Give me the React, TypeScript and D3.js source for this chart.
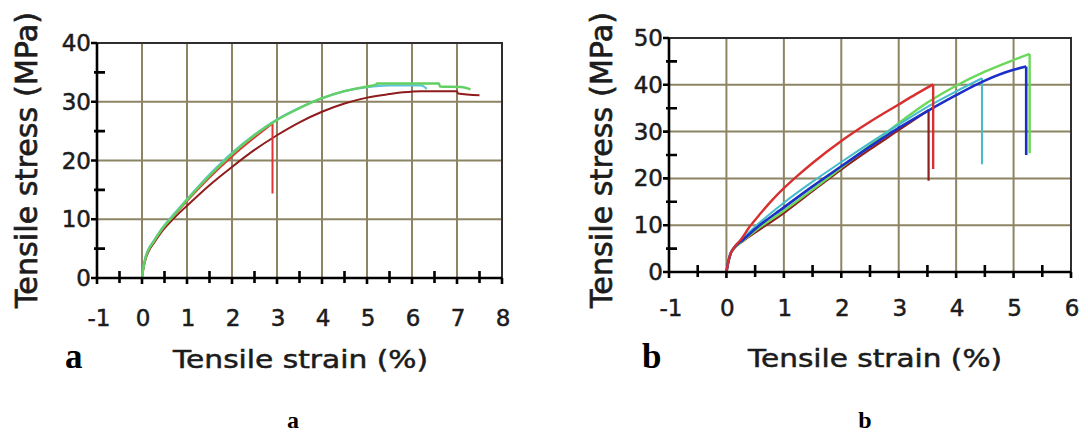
import React from "react";
import * as d3 from "d3";

const W = 1088;
const H = 436;

// ---- panel a: strain (%) vs stress (MPa)
const aStrainTicks = [-1, 0, 1, 2, 3, 4, 5, 6, 7, 8];
const aStressTicks = [0, 10, 20, 30, 40];

const aDarkRed = [
  [0, 0], [0.03, 1.5], [0.08, 3.2], [0.15, 4.6], [0.25, 5.8], [0.47, 8.2], [0.7, 10.1],
  [1, 12.3], [1.5, 15.8], [2, 18.9], [2.5, 21.8], [3, 24.3], [3.5, 26.5], [4, 28.3],
  [4.5, 29.7], [5, 30.7], [5.5, 31.3], [5.8, 31.6], [6.2, 31.8], [7, 31.8], [7.02, 31.4], [7.5, 31.1],
];
const aRed = [
  [0, 0], [0.03, 1.6], [0.08, 3.4], [0.15, 4.8], [0.25, 6], [0.47, 8.5], [0.7, 10.5],
  [1, 13.1], [1.5, 17.1], [2, 20.7], [2.5, 23.9], [2.9, 26.3], [2.9, 14.4],
];
const aCyan = [
  [0, 0], [0.03, 1.8], [0.08, 3.6], [0.15, 5], [0.25, 6.2], [0.47, 8.7], [0.7, 10.8],
  [1, 13.4], [1.5, 17.6], [2, 21.3], [2.5, 24.4], [3, 27], [3.5, 29], [4, 30.6],
  [4.5, 31.8], [5, 32.5], [5.5, 32.8], [6.2, 32.8], [6.33, 32.2],
];
const aGreen = [
  [0, 0], [0.03, 1.7], [0.08, 3.5], [0.15, 4.9], [0.25, 6.1], [0.47, 8.6], [0.7, 10.6],
  [1, 13.3], [1.5, 17.4], [2, 21.1], [2.5, 24.3], [3, 26.9], [3.5, 28.9], [4, 30.6],
  [4.5, 31.8], [5, 32.6], [5.2, 32.9], [5.22, 33.1], [6.6, 33.1], [6.62, 32.6], [7.1, 32.5], [7.3, 32.1],
];

// ---- panel b
const bStrainTicks = [-1, 0, 1, 2, 3, 4, 5, 6];
const bStressTicks = [0, 10, 20, 30, 40, 50];

const bMaroon = [
  [0, 0], [0.03, 2], [0.07, 3.8], [0.12, 4.8], [0.3, 6.7], [0.5, 8.4], [1, 12.6],
  [1.5, 17.3], [2, 21.9], [2.5, 26.2], [3, 30.3], [3.52, 34.6], [3.52, 19.5],
];
const bRed = [
  [0, 0], [0.03, 2], [0.07, 3.8], [0.12, 5], [0.25, 6.9], [0.4, 9.6], [0.6, 12.6],
  [0.8, 15.4], [1, 17.9], [1.25, 20.7], [1.5, 23.3], [2, 28], [2.5, 32.1], [3, 35.8],
  [3.3, 38], [3.6, 40.1], [3.6, 22],
];
const bGreen = [
  [0, 0], [0.03, 2], [0.07, 3.8], [0.12, 4.8], [0.3, 6.8], [0.5, 8.8], [1, 13.1],
  [1.5, 17.6], [2, 22.3], [2.5, 27.1], [3, 31.8], [3.5, 36.2], [4, 39.8], [4.5, 42.8],
  [5, 45.3], [5.28, 46.6], [5.28, 25.4],
];
const bCyan = [
  [0, 0], [0.03, 2], [0.07, 3.8], [0.12, 5], [0.3, 7.4], [0.5, 9.7], [1, 14.8],
  [1.5, 19.3], [2, 23.5], [2.5, 27.6], [3, 31.5], [3.5, 35.3], [4, 38.6], [4.45, 41.4], [4.45, 23],
];
const bBlue = [
  [0, 0], [0.03, 2], [0.07, 3.9], [0.12, 5], [0.3, 7], [0.5, 9.2], [1, 13.8],
  [1.5, 18.3], [2, 22.6], [2.5, 26.8], [3, 30.8], [3.5, 34.4], [4, 37.8], [4.5, 40.9],
  [5, 43.2], [5.22, 43.9], [5.22, 25],
];

const gridColor = "#8c8463";
const textColor = "#1c1c1c";
const font = "'DejaVu Sans', Verdana, sans-serif";
const serif = "'Liberation Serif', 'Times New Roman', serif";

type Series = { data: number[][]; color: string; width: number };

function Panel(props: {
  xTicks: number[];
  yTicks: number[];
  xRange: [number, number];
  yRange: [number, number];
  series: Series[];
  xLabelY: number;
  yTitleX: number;
  xTitle: { x1: number; x2: number; y: number };
  letter: { x: number; y: number; text: string };
}) {
  const { xTicks, yTicks, xRange, yRange, series } = props;
  const x = d3.scaleLinear().domain(d3.extent(xTicks) as [number, number]).range(xRange);
  const y = d3.scaleLinear().domain(d3.extent(yTicks) as [number, number]).range(yRange);
  const [left, right] = xRange;
  const [bottom, top] = yRange;

  const smooth = d3
    .line<number[]>()
    .x((d) => x(d[0]))
    .y((d) => y(d[1]))
    .curve(d3.curveMonotoneX);
  const straight = d3
    .line<number[]>()
    .x((d) => x(d[0]))
    .y((d) => y(d[1]));

  // monotone curve over the rising part, straight drop at the break
  const pathFor = (data: number[][]) => {
    let k = 1;
    while (k < data.length && data[k][0] > data[k - 1][0]) k++;
    const head = smooth(data.slice(0, k)) || "";
    const tail = k < data.length ? straight(data.slice(k - 1)) || "" : "";
    return head + tail;
  };

  const xMinor = d3.range(xTicks[0] + 0.5, xTicks[xTicks.length - 1], 1);
  const yMinor = d3.range(yTicks[0] + 5, yTicks[yTicks.length - 1], 10);

  // axis + tick marks as one path so it renders as a single crisp stroke
  const axisPath =
    `M${left},${top}V${bottom}H${right}` +
    xTicks.map((t) => `M${x(t)},${bottom}v6`).join("") +
    xMinor.map((t) => `M${x(t)},${bottom - 7}v12`).join("") +
    yTicks.map((t) => `M${left - 6},${y(t)}h6`).join("") +
    yMinor.map((t) => `M${left - 3},${y(t)}h11`).join("");

  return (
    <g>
      {/* grid */}
      {xTicks.slice(1, -1).map((t) => (
        <line key={"gx" + t} x1={x(t)} x2={x(t)} y1={bottom} y2={top} stroke={gridColor} strokeWidth={2} />
      ))}
      {yTicks.slice(1, -1).map((t) => (
        <line key={"gy" + t} x1={left} x2={right} y1={y(t)} y2={y(t)} stroke={gridColor} strokeWidth={2} />
      ))}
      {/* frame */}
      <path d={`M${left},${top}H${right}V${bottom}`} fill="none" stroke="#2e2e2e" strokeWidth={2} />

      {/* curves */}
      {series.map((s, i) => (
        <path key={i} d={pathFor(s.data)} fill="none" stroke={s.color} strokeWidth={s.width} strokeLinejoin="round" />
      ))}

      {/* axes */}
      <path d={axisPath} fill="none" stroke="#000" strokeWidth={2.6} />

      {/* tick labels */}
      {xTicks.map((t) => (
        <text key={"lx" + t} x={x(t) + (t < 0 ? 2 : 1)} y={props.xLabelY} textAnchor="middle"
          fontFamily={font} fontSize={23} fill={textColor} stroke={textColor} strokeWidth={0.5}>
          {String(t)}
        </text>
      ))}
      {yTicks.map((t) => (
        <text key={"ly" + t} x={left - 6} y={y(t) + 8} textAnchor="end"
          fontFamily={font} fontSize={23} fill={textColor} stroke={textColor} strokeWidth={0.5}>
          {t}
        </text>
      ))}

      {/* axis titles */}
      <text
        transform={`translate(${props.yTitleX},160) rotate(-90)`}
        textAnchor="middle"
        fontFamily={font}
        fontSize={31}
        textLength={296}
        lengthAdjust="spacingAndGlyphs"
        fill={textColor}
        stroke={textColor}
        strokeWidth={0.7}
      >
        Tensile stress (MPa)
      </text>
      <text
        x={props.xTitle.x1}
        y={props.xTitle.y}
        fontFamily={font}
        fontSize={24}
        textLength={props.xTitle.x2 - props.xTitle.x1}
        lengthAdjust="spacingAndGlyphs"
        fill={textColor}
        stroke={textColor}
        strokeWidth={0.5}
      >
        Tensile strain (%)
      </text>
      <text x={props.letter.x} y={props.letter.y} fontFamily={serif} fontWeight="bold" fontSize={35} fill="#000">
        {props.letter.text}
      </text>
    </g>
  );
}

export default function App() {
  return (
    <svg width={W} height={H} style={{ position: "absolute", left: 0, top: 0, background: "#fff" }}>
      <rect width={W} height={H} fill="#fff" />
      <Panel
        xTicks={aStrainTicks}
        yTicks={aStressTicks}
        xRange={[97, 502]}
        yRange={[278, 43]}
        series={[
          { data: aDarkRed, color: "#8e1c1c", width: 2 },
          { data: aRed, color: "#e23434", width: 2 },
          { data: aCyan, color: "#62c4dc", width: 2.2 },
          { data: aGreen, color: "#62d062", width: 2.4 },
        ]}
        xLabelY={326}
        yTitleX={37}
        xTitle={{ x1: 173, x2: 428, y: 368 }}
        letter={{ x: 65, y: 368, text: "a" }}
      />
      <Panel
        xTicks={bStrainTicks}
        yTicks={bStressTicks}
        xRange={[669, 1071]}
        yRange={[272, 38]}
        series={[
          { data: bMaroon, color: "#8e2020", width: 2.2 },
          { data: bGreen, color: "#6ad85a", width: 2.4 },
          { data: bCyan, color: "#44bccc", width: 2 },
          { data: bBlue, color: "#1c30c8", width: 2.6 },
          { data: bRed, color: "#d83030", width: 2.4 },
        ]}
        xLabelY={316}
        yTitleX={612}
        xTitle={{ x1: 748, x2: 1002, y: 367 }}
        letter={{ x: 642, y: 368, text: "b" }}
      />
      <text x={293} y={428} textAnchor="middle" fontFamily={serif} fontWeight="bold" fontSize={24} fill="#000">
        a
      </text>
      <text x={865} y={428} textAnchor="middle" fontFamily={serif} fontWeight="bold" fontSize={24} fill="#000">
        b
      </text>
    </svg>
  );
}
